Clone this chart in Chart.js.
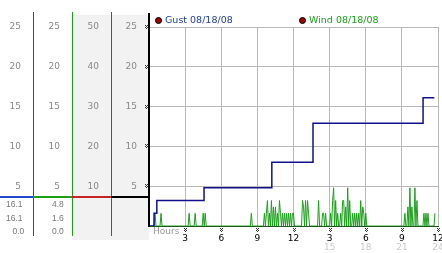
<!DOCTYPE html>
<html>
  <head>
    <title>Gust / Wind 08/18/08</title>
    <script src="https://cdn.jsdelivr.net/npm/chart.js@4.4.1/dist/chart.umd.min.js"></script>
    <style>
      body { margin: 0; background: #fff; }
    </style>
  </head>
  <body>
    <canvas id="windChart" width="442" height="253"></canvas>
    <script>
      // x axis labels (12h clock on first row, 24h on second row)
      const hourLabels = ["", "3", "6", "9", "12", "3", "6", "9", "12"];
      const hourLabels24 = ["", "", "", "", "", "15", "18", "21", "24"];

      // gust: running max, value starts at given hour
      const gustHours = [0, 0.3, 0.42, 0.65, 4.57, 10.2, 13.62, 22.76, 23.7];
      const gustMph = [0, 0, 1.6, 3.2, 4.8, 8.0, 12.9, 16.1, 16.1];

      // wind: one reading every 5 minutes, 2 hours per row
      const windMph = [
        0, 0, 0, 0, 0, 0, 1.6, 0, 0, 0, 0, 0, 1.6, 0, 0, 0, 0, 0, 0, 0, 0, 0, 0, 0,
        0, 0, 0, 0, 0, 0, 0, 0, 0, 0, 0, 0, 0, 0, 0, 0, 1.6, 0, 0, 0, 0, 0, 1.6, 0,
        0, 0, 0, 0, 0, 0, 1.6, 0, 1.6, 0, 0, 0, 0, 0, 0, 0, 0, 0, 0, 0, 0, 0, 0, 0,
        0, 0, 0, 0, 0, 0, 0, 0, 0, 0, 0, 0, 0, 0, 0, 0, 0, 0, 0, 0, 0, 0, 0, 0,
        0, 0, 0, 0, 0, 0, 1.6, 0, 0, 0, 0, 0, 0, 0, 0, 0, 0, 0, 0, 1.6, 0, 1.6, 3.2, 0,
        1.6, 0, 3.2, 0, 2.4, 0, 2.4, 0, 1.6, 0, 3.2, 1.6, 0, 1.6, 0, 1.6, 0, 1.6, 0, 1.6, 0, 1.6, 0, 1.6,
        1.6, 0, 0, 0, 0, 0, 0, 0, 0, 3.2, 2.4, 0, 3.2, 0, 3.2, 1.6, 0, 0, 0, 0, 0, 0, 0, 0,
        0, 3.2, 0, 0, 0, 1.6, 1.6, 0, 1.6, 0, 0, 0, 0, 1.6, 0, 3.2, 4.8, 0, 3.2, 0, 1.6, 0, 0, 1.6,
        0, 3.2, 3.2, 0, 2.4, 0, 4.8, 0, 3.2, 0, 0, 1.6, 0, 1.6, 0, 1.6, 0, 1.6, 0, 3.2, 0, 2.4, 1.6, 0,
        1.6, 0, 0, 0, 0, 0, 0, 0, 0, 0, 0, 0, 0, 0, 0, 0, 0, 0, 0, 0, 0, 0, 0, 0,
        0, 0, 0, 0, 0, 0, 0, 0, 0, 0, 0, 0, 0, 0, 0, 1.6, 0, 0, 2.4, 0, 4.8, 0, 2.4, 0,
        0, 4.8, 0, 3.2, 0, 0, 0, 0, 0, 0, 1.6, 0, 1.6, 0, 1.6, 0, 0, 0, 0, 0, 0, 1.6
      ];

      // max / current / min shown under the left columns
      const gustStats = ["16.1", "16.1", "0.0"];
      const windStats = ["4.8", "1.6", "0.0"];

      const tickFont = { family: "DejaVu Sans", size: 9 };
      const hideZero = (v) => (v === 0 ? "" : v);

      function sideAxis(weight, width, max, step) {
        return {
          type: "linear",
          position: "left",
          weight: weight,
          min: 0,
          max: max,
          ticks: { stepSize: step, callback: hideZero, color: "#888", font: tickFont, padding: 12 },
          grid: { display: false, drawTicks: false },
          border: { display: false },
          afterFit: (s) => { s.width = width; }
        };
      }

      // tiny dotted tick glyph
      function mark(ctx, x, y) {
        ctx.fillStyle = "#333";
        const dots = [[0, 0], [2, 0], [1, 1], [0, 2], [2, 2], [1, 3]];
        dots.forEach((d) => ctx.fillRect(Math.round(x) - 1 + d[0], Math.round(y) - 2 + d[1], 1, 1));
      }

      const blue = "#2448c8";
      const green = "#1aa01a";
      const red = "#c82424";

      const panel = {
        id: "panel",
        beforeDraw(chart) {
          const { ctx, scales } = chart;
          ctx.save();
          ctx.fillStyle = "#fff";
          ctx.fillRect(0, 0, chart.width, chart.height);
          ctx.fillStyle = "#f2f2f2";
          ctx.fillRect(scales.yWind.right, 15, scales.y.right - scales.yWind.right, 225);
          ctx.restore();
        },
        afterDraw(chart) {
          const { ctx, scales } = chart;
          const area = chart.chartArea;
          ctx.save();

          // column dividers
          const cols = [
            [scales.yGust.right, blue],
            [scales.yWind.right, green],
            [scales.yTemp.right, red]
          ];
          ctx.lineWidth = 1;
          cols.forEach(([x, c]) => {
            ctx.strokeStyle = c;
            ctx.beginPath();
            ctx.moveTo(Math.round(x) + 0.5, 12);
            ctx.lineTo(Math.round(x) + 0.5, 236);
            ctx.stroke();
          });
          ctx.fillStyle = "#000";
          ctx.fillRect(area.left - 1, 13, 2, area.bottom - 13 + 1);

          // separator above the stats
          const sepY = 196;
          ctx.fillStyle = blue; ctx.fillRect(0, sepY, scales.yGust.right, 2);
          ctx.fillStyle = green; ctx.fillRect(scales.yWind.left, sepY, scales.yWind.width, 2);
          ctx.fillStyle = red; ctx.fillRect(scales.yTemp.left, sepY, scales.yTemp.width, 2);
          ctx.fillStyle = "#000"; ctx.fillRect(scales.y.left, sepY, scales.y.width, 2);

          // stats
          ctx.font = '8.5px "Liberation Sans"';
          ctx.fillStyle = "#777";
          ctx.textBaseline = "middle";
          ctx.textAlign = "left";
          const rows = [204.5, 218.5, 232];
          const gustX = [6, 6, 12.5];
          gustStats.forEach((t, i) => ctx.fillText(t, gustX[i], rows[i]));
          windStats.forEach((t, i) => ctx.fillText(t, 52, rows[i]));

          // tick glyphs
          scales.y.ticks.forEach((t) => {
            if (t.value > 0) mark(ctx, area.left - 3, scales.y.getPixelForValue(t.value));
          });
          scales.x.ticks.forEach((t) => {
            if (t.value > 0) mark(ctx, scales.x.getPixelForValue(t.value), 230);
          });

          // Hours caption
          ctx.font = '9px "DejaVu Sans"';
          ctx.fillStyle = "#999";
          ctx.fillText("Hours", area.left + 4, 231.5);

          // legend
          const legend = [
            [chart.data.datasets[0].label, "#2040a0", area.left + 9.5],
            [chart.data.datasets[1].label, green, area.left + 153.5]
          ];
          ctx.font = '9.5px "DejaVu Sans"';
          legend.forEach(([text, color, x]) => {
            ctx.beginPath();
            ctx.arc(x, 20.5, 3, 0, Math.PI * 2);
            ctx.fillStyle = "#a00000";
            ctx.fill();
            ctx.strokeStyle = "#000";
            ctx.stroke();
            ctx.fillStyle = color;
            ctx.fillText(text, x + 6.5, 20.5);
          });

          ctx.restore();
        }
      };

      const ctx = document.getElementById("windChart").getContext("2d");
      new Chart(ctx, {
        type: "line",
        data: {
          datasets: [
            {
              label: "Gust 08/18/08",
              data: gustHours.map((h, i) => ({ x: h, y: gustMph[i] })),
              stepped: true,
              borderColor: "#10108c",
              borderWidth: 1.5,
              pointRadius: 0,
              yAxisID: "y"
            },
            {
              label: "Wind 08/18/08",
              data: windMph.map((v, i) => ({ x: i / 12, y: v })),
              borderColor: "#1ca01c",
              borderWidth: 1,
              pointRadius: 0,
              tension: 0,
              yAxisID: "y"
            }
          ]
        },
        options: {
          responsive: false,
          animation: false,
          layout: { padding: { top: 27, right: 4, left: 0, bottom: 0 } },
          plugins: { legend: { display: false }, tooltip: { enabled: false } },
          scales: {
            x: {
              type: "linear",
              position: "bottom",
              min: 0,
              max: 24,
              ticks: {
                stepSize: 3,
                autoSkip: false,
                maxRotation: 0,
                color: "#000",
                font: tickFont,
                padding: 7,
                callback: (v, i) => hourLabels[i]
              },
              grid: { color: "#b8b8b8", drawTicks: false },
              border: { color: "#1a5a1a" },
              afterFit: (s) => { s.height = 17; s.paddingLeft = 0; s.paddingRight = 0; }
            },
            x2: {
              type: "linear",
              position: "bottom",
              min: 0,
              max: 24,
              ticks: {
                stepSize: 3,
                autoSkip: false,
                maxRotation: 0,
                color: "#c8c8c8",
                font: { family: "DejaVu Sans", size: 9, lineHeight: 1 },
                padding: 0,
                callback: (v, i) => hourLabels24[i]
              },
              grid: { display: false, drawTicks: false },
              border: { display: false },
              afterFit: (s) => { s.height = 10; s.paddingLeft = 0; s.paddingRight = 0; }
            },
            yGust: sideAxis(4, 33, 25, 5),
            yWind: sideAxis(3, 39, 25, 5),
            yTemp: sideAxis(2, 39, 50, 10),
            y: {
              type: "linear",
              position: "left",
              weight: 1,
              min: 0,
              max: 25,
              ticks: { stepSize: 5, callback: hideZero, color: "#888", font: tickFont, padding: 12 },
              grid: { color: "#b8b8b8", drawTicks: false },
              border: { display: false },
              afterFit: (s) => { s.width = 38; }
            }
          }
        },
        plugins: [panel]
      });
    </script>
  </body>
</html>
